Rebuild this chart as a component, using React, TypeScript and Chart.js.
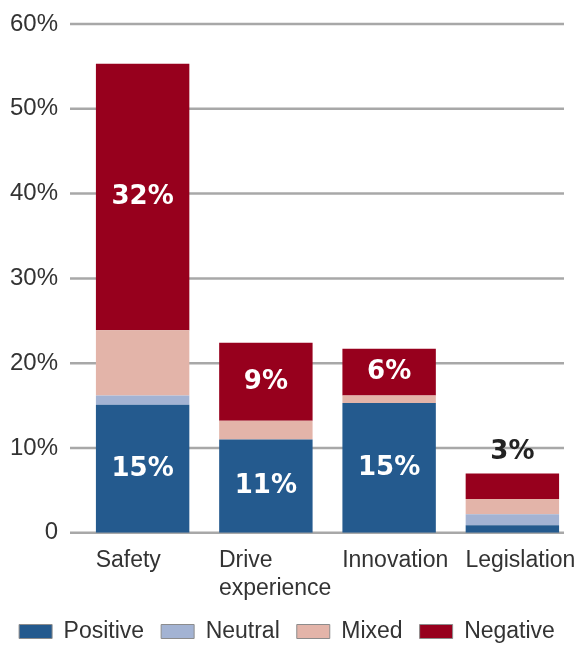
import React, { useEffect, useRef } from "react";
import { Chart, registerables } from "chart.js";

Chart.register(...registerables);

const categories = [["Safety"], ["Drive", "experience"], ["Innovation"], ["Legislation"]];
const seriesNames = ["Positive", "Neutral", "Mixed", "Negative"];
const positive = [15.1, 11.0, 15.3, 0.9];
const neutral = [1.1, 0, 0, 1.3];
const mixed = [7.7, 2.2, 0.9, 1.8];
const negative = [31.4, 9.2, 5.5, 3.0];
const positiveLabels = ["15%", "11%", "15%", ""];
const neutralLabels = ["", "", "", ""];
const mixedLabels = ["", "", "", ""];
const negativeLabels = ["32%", "9%", "6%", "3%"];
const yMax = 60;
const yStep = 10;

const colors = ["#245a8e", "#a3b3d3", "#e3b4a9", "#97001d"];
const FONT = "'Liberation Sans', Arial, sans-serif";

const gridPlugin = {
  id: "customGrid",
  beforeDatasetsDraw(chart: any) {
    const { ctx, chartArea, scales } = chart;
    const y = scales.y;
    ctx.save();
    ctx.strokeStyle = "#a8a8a8";
    ctx.lineWidth = 2.5;
    y.ticks.forEach((t: any) => {
      const py = y.getPixelForValue(t.value);
      ctx.beginPath();
      ctx.moveTo(chartArea.left - 11, py);
      ctx.lineTo(chartArea.right - 10, py);
      ctx.stroke();
    });
    ctx.restore();
  },
};

const labelPlugin = {
  id: "segLabels",
  afterDatasetsDraw(chart: any) {
    const { ctx } = chart;
    ctx.save();
    ctx.font = "bold 26px 'DejaVu Sans', sans-serif";
    ctx.textAlign = "center";
    ctx.textBaseline = "middle";
    chart.data.datasets.forEach((ds: any, di: number) => {
      const meta = chart.getDatasetMeta(di);
      meta.data.forEach((el: any, i: number) => {
        const txt = ds.segLabels[i];
        if (!txt) return;
        const top = Math.min(el.y, el.base);
        const h = Math.abs(el.base - el.y);
        if (h >= 34) {
          ctx.fillStyle = "#ffffff";
          ctx.fillText(txt, el.x, top + h / 2);
        } else {
          ctx.fillStyle = "#222222";
          ctx.fillText(txt, el.x, top - 21);
        }
      });
    });
    ctx.restore();
  },
};

export default function App() {
  const ref = useRef<HTMLCanvasElement>(null);
  useEffect(() => {
    document.body.style.margin = "0";
    const values = [positive, neutral, mixed, negative];
    const segLabels = [positiveLabels, neutralLabels, mixedLabels, negativeLabels];
    const chart = new Chart(ref.current!, {
      type: "bar",
      data: {
        labels: categories as any,
        datasets: seriesNames.map((name, k) => ({
          label: name,
          data: values[k],
          backgroundColor: colors[k],
          borderWidth: 0,
          categoryPercentage: 0.758,
          barPercentage: 1,
          segLabels: segLabels[k],
        })) as any,
      },
      options: {
        animation: false,
        responsive: true,
        maintainAspectRatio: false,
        layout: { padding: { left: 0, right: 5, top: 24, bottom: -7 } },
        scales: {
          x: {
            stacked: true,
            grid: { display: false, drawTicks: false },
            border: { display: false },
            afterFit: (s: any) => {
              s.paddingLeft = 0;
              s.paddingRight = 0;
              s.height = s.height - 13;
            },
            ticks: {
              align: "start",
              labelOffset: -47,
              padding: 14,
              color: "#333333",
              font: { family: FONT, size: 23 },
              maxRotation: 0,
              autoSkip: false,
            },
          },
          y: {
            stacked: true,
            min: 0,
            max: yMax,
            grid: { display: false, drawTicks: false },
            border: { display: false },
            afterFit: (s: any) => {
              s.width = 81;
              s.paddingTop = 0;
              s.paddingBottom = 0;
            },
            ticks: {
              stepSize: yStep,
              padding: 23,
              color: "#333333",
              font: { family: FONT, size: 24 },
              callback: (v: any) => (v === 0 ? "0" : v + "%"),
            },
          },
        },
        plugins: {
          tooltip: { enabled: false },
          legend: {
            position: "bottom",
            labels: {
              boxWidth: 33,
              boxHeight: 14,
              padding: 17,
              color: "#333333",
              font: { family: FONT, size: 23 },
              generateLabels: (c: any) =>
                Chart.defaults.plugins.legend.labels.generateLabels(c).map((l: any) => ({
                  ...l,
                  lineWidth: 1,
                  strokeStyle: "#8c8c8c",
                })),
            },
          },
        },
      },
      plugins: [gridPlugin, labelPlugin],
    });
    return () => chart.destroy();
  }, []);
  return (
    <div style={{ width: 579, height: 646, position: "relative" }}>
      <canvas ref={ref} />
    </div>
  );
}
